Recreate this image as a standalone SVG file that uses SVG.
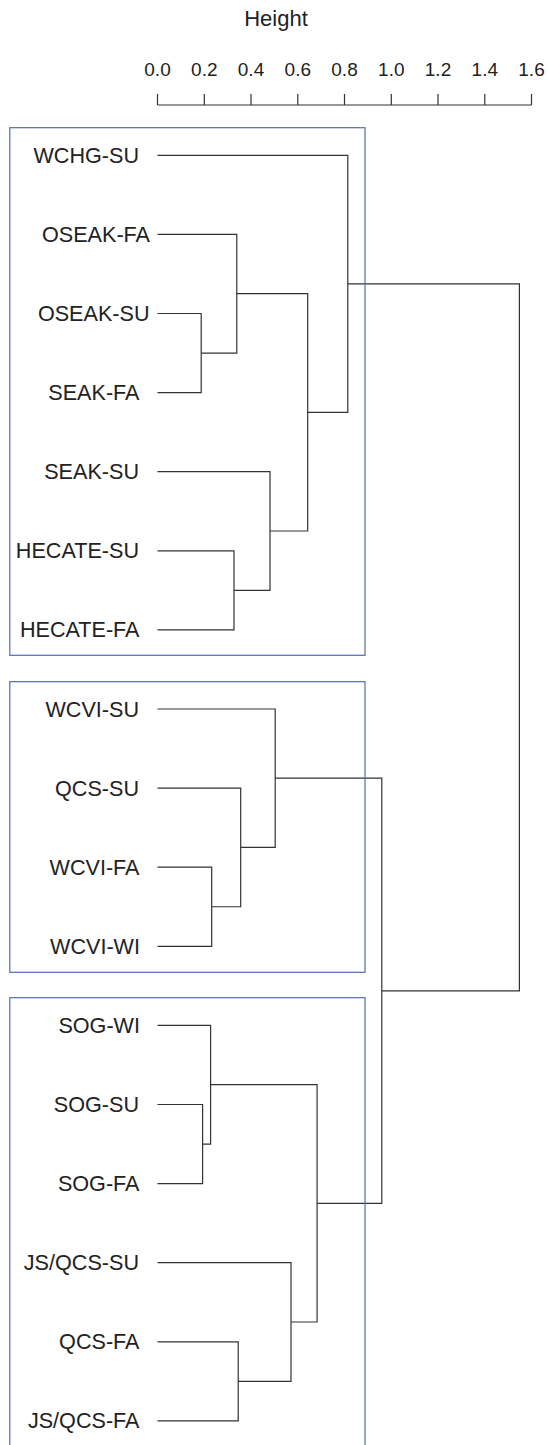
<svg xmlns="http://www.w3.org/2000/svg" width="548" height="1445" viewBox="0 0 548 1445">
<style>
text{font-family:"Liberation Sans",Arial,sans-serif;fill:#222}
.lbl{font-size:21.6px;text-anchor:end}
.tick{font-size:19px;text-anchor:middle}
.ttl{font-size:22px;text-anchor:middle}
.ln{fill:none;stroke:#333;stroke-width:1.2}
.box{fill:none;stroke:#5468b8;stroke-width:1.2}
</style>
<rect width="548" height="1445" fill="#fff"/>
<g id="axis">
<text class="ttl" x="276" y="25.5">Height</text>
<g>
<text class="tick" x="157.5" y="76">0.0</text>
<text class="tick" x="204.3" y="76">0.2</text>
<text class="tick" x="251" y="76">0.4</text>
<text class="tick" x="297.8" y="76">0.6</text>
<text class="tick" x="344.5" y="76">0.8</text>
<text class="tick" x="391.3" y="76">1.0</text>
<text class="tick" x="438" y="76">1.2</text>
<text class="tick" x="484.8" y="76">1.4</text>
<text class="tick" x="531.5" y="76">1.6</text>
</g>
<path class="ln" d="M157.5 105H531.5M157.5 94V105M204.3 94V105M251 94V105M297.8 94V105M344.5 94V105M391.3 94V105M438 94V105M484.8 94V105M531.5 94V105"/>
</g>
<g id="connectors">
<path class="ln" d="M157.5 313.5H201.2V392.6H157.5"/>
<path class="ln" d="M157.5 234.4H236.8V353.05H201.2"/>
<path class="ln" d="M157.5 550.8H234V629.9H157.5"/>
<path class="ln" d="M157.5 471.7H270V590.35H234"/>
<path class="ln" d="M236.8 293.7H307.7V531H270"/>
<path class="ln" d="M157.5 155.3H347.8V412.4H307.7"/>
<path class="ln" d="M157.5 867.2H211.7V946.3H157.5"/>
<path class="ln" d="M157.5 788.1H240.7V906.75H211.7"/>
<path class="ln" d="M157.5 709H275.2V847.4H240.7"/>
<path class="ln" d="M157.5 1104.5H202.6V1183.6H157.5"/>
<path class="ln" d="M157.5 1025.4H210.6V1144.05H202.6"/>
<path class="ln" d="M157.5 1341.8H238.2V1420.9H157.5"/>
<path class="ln" d="M157.5 1262.7H291V1381.35H238.2"/>
<path class="ln" d="M210.6 1084.7H317.1V1322H291"/>
<path class="ln" d="M275.2 778.2H381.8V1203.4H317.1"/>
<path class="ln" d="M347.8 283.85H519.4V990.8H381.8"/>
</g>
<g id="groups">
<rect id="group-north" class="box" x="9.8" y="127.7" width="355.2" height="527.6"/>
<rect id="group-wcvi" class="box" x="9.8" y="681.7" width="355.2" height="290.6"/>
<rect id="group-sog" class="box" x="9.8" y="997.7" width="355.2" height="460"/>
</g>
<g id="n-WCHG-SU"><text class="lbl" x="139" y="162.8">WCHG-SU</text></g>
<g id="n-OSEAK-FA"><text class="lbl" x="150" y="241.9">OSEAK-FA</text></g>
<g id="n-OSEAK-SU"><text class="lbl" x="149.5" y="321">OSEAK-SU</text></g>
<g id="n-SEAK-FA"><text class="lbl" x="139.5" y="400.1">SEAK-FA</text></g>
<g id="n-SEAK-SU"><text class="lbl" x="139" y="479.2">SEAK-SU</text></g>
<g id="n-HECATE-SU"><text class="lbl" x="139" y="558.3">HECATE-SU</text></g>
<g id="n-HECATE-FA"><text class="lbl" x="139.5" y="637.4">HECATE-FA</text></g>
<g id="n-WCVI-SU"><text class="lbl" x="139" y="716.5">WCVI-SU</text></g>
<g id="n-QCS-SU"><text class="lbl" x="139" y="795.6">QCS-SU</text></g>
<g id="n-WCVI-FA"><text class="lbl" x="139.5" y="874.7">WCVI-FA</text></g>
<g id="n-WCVI-WI"><text class="lbl" x="140" y="953.8">WCVI-WI</text></g>
<g id="n-SOG-WI"><text class="lbl" x="140" y="1032.9">SOG-WI</text></g>
<g id="n-SOG-SU"><text class="lbl" x="139" y="1112">SOG-SU</text></g>
<g id="n-SOG-FA"><text class="lbl" x="139.5" y="1191.1">SOG-FA</text></g>
<g id="n-JS-QCS-SU"><text class="lbl" x="139" y="1270.2">JS/QCS-SU</text></g>
<g id="n-QCS-FA"><text class="lbl" x="139.5" y="1349.3">QCS-FA</text></g>
<g id="n-JS-QCS-FA"><text class="lbl" x="139.5" y="1428.4">JS/QCS-FA</text></g>
</svg>
